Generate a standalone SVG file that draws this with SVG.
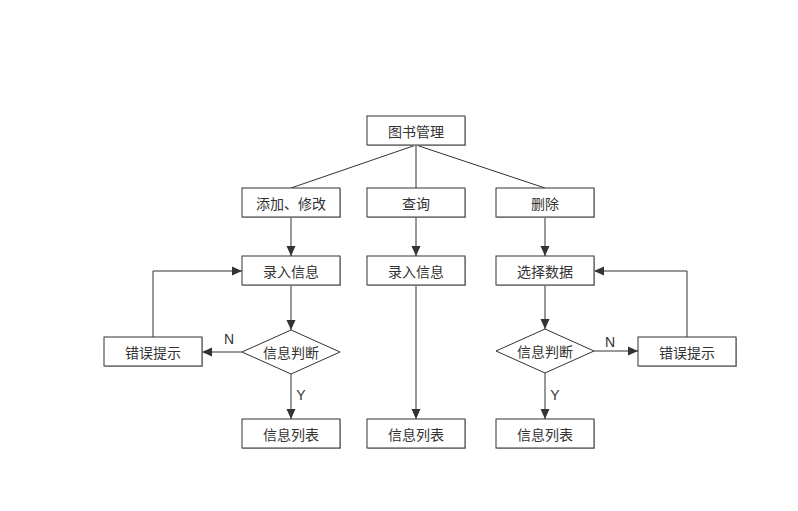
<svg xmlns="http://www.w3.org/2000/svg" width="798" height="511" viewBox="0 0 798 511">
<defs>
<style>
.b{fill:#fff;stroke:#333;stroke-width:1}
.s{fill:#bbb;stroke:none}
.t{font-family:"Noto Sans CJK SC","Liberation Sans",sans-serif;font-size:14px;fill:#333;text-anchor:middle;dominant-baseline:central}
.l{font-family:"Liberation Sans","Noto Sans",sans-serif;font-size:14px;fill:#333;text-anchor:middle;dominant-baseline:central}
.c{fill:none;stroke:#333;stroke-width:1}
</style>
<marker id="a" viewBox="0 0 10 10" refX="10" refY="5" markerWidth="10" markerHeight="10" markerUnits="userSpaceOnUse" orient="auto">
<path d="M0,0.5 L10,5 L0,9.5 Z" fill="#333"/>
</marker>
</defs>
<rect width="798" height="511" fill="#fff"/>
<g id="connectors">
<path class="c" d="M416,145 L291,188"/>
<path class="c" d="M416,145 L416,188"/>
<path class="c" d="M416,145 L545,188"/>
<path class="c" d="M291,217 L291,256" marker-end="url(#a)"/>
<path class="c" d="M416,217 L416,256" marker-end="url(#a)"/>
<path class="c" d="M545,217 L545,256" marker-end="url(#a)"/>
<path class="c" d="M291,285 L291,330" marker-end="url(#a)"/>
<path class="c" d="M242,352 L202,352" marker-end="url(#a)"/>
<path class="c" d="M153,337 L153,271 L242,271" marker-end="url(#a)"/>
<path class="c" d="M291,374 L291,419" marker-end="url(#a)"/>
<path class="c" d="M416,285 L416,419" marker-end="url(#a)"/>
<path class="c" d="M545,285 L545,329" marker-end="url(#a)"/>
<path class="c" d="M594,351 L638,351" marker-end="url(#a)"/>
<path class="c" d="M687,337 L687,271 L594,271" marker-end="url(#a)"/>
<path class="c" d="M545,373 L545,419" marker-end="url(#a)"/>
<text class="l" x="229" y="339">N</text>
<text class="l" x="301" y="395">Y</text>
<text class="l" x="610" y="342">N</text>
<text class="l" x="555" y="395">Y</text>
</g>
<g id="n1"><rect class="s" x="368" y="117" width="98" height="29"/><rect class="b" x="367" y="116" width="98" height="29"/><text class="t" x="416" y="130.5">图书管理</text></g>
<g id="n2"><rect class="s" x="243" y="189" width="98" height="29"/><rect class="b" x="242" y="188" width="98" height="29"/><text class="t" x="291" y="202.5">添加、修改</text></g>
<g id="n3"><rect class="s" x="368" y="189" width="98" height="29"/><rect class="b" x="367" y="188" width="98" height="29"/><text class="t" x="416" y="202.5">查询</text></g>
<g id="n4"><rect class="s" x="497" y="189" width="98" height="29"/><rect class="b" x="496" y="188" width="98" height="29"/><text class="t" x="545" y="202.5">删除</text></g>
<g id="n5"><rect class="s" x="243" y="257" width="98" height="29"/><rect class="b" x="242" y="256" width="98" height="29"/><text class="t" x="291" y="270.5">录入信息</text></g>
<g id="n6"><rect class="s" x="368" y="257" width="98" height="29"/><rect class="b" x="367" y="256" width="98" height="29"/><text class="t" x="416" y="270.5">录入信息</text></g>
<g id="n7"><rect class="s" x="497" y="257" width="98" height="29"/><rect class="b" x="496" y="256" width="98" height="29"/><text class="t" x="545" y="270.5">选择数据</text></g>
<g id="n8"><path class="b" d="M291,330 L340,352 L291,374 L242,352 Z"/><text class="t" x="291" y="352">信息判断</text></g>
<g id="n9"><rect class="s" x="105" y="338" width="98" height="29"/><rect class="b" x="104" y="337" width="98" height="29"/><text class="t" x="153" y="351.5">错误提示</text></g>
<g id="n10"><path class="b" d="M545,329 L594,351 L545,373 L496,351 Z"/><text class="t" x="545" y="351">信息判断</text></g>
<g id="n11"><rect class="s" x="639" y="338" width="98" height="29"/><rect class="b" x="638" y="337" width="98" height="29"/><text class="t" x="687" y="351.5">错误提示</text></g>
<g id="n12"><rect class="s" x="243" y="420" width="98" height="29"/><rect class="b" x="242" y="419" width="98" height="29"/><text class="t" x="291" y="433.5">信息列表</text></g>
<g id="n13"><rect class="s" x="368" y="420" width="98" height="29"/><rect class="b" x="367" y="419" width="98" height="29"/><text class="t" x="416" y="433.5">信息列表</text></g>
<g id="n14"><rect class="s" x="497" y="420" width="98" height="29"/><rect class="b" x="496" y="419" width="98" height="29"/><text class="t" x="545" y="433.5">信息列表</text></g>
</svg>
